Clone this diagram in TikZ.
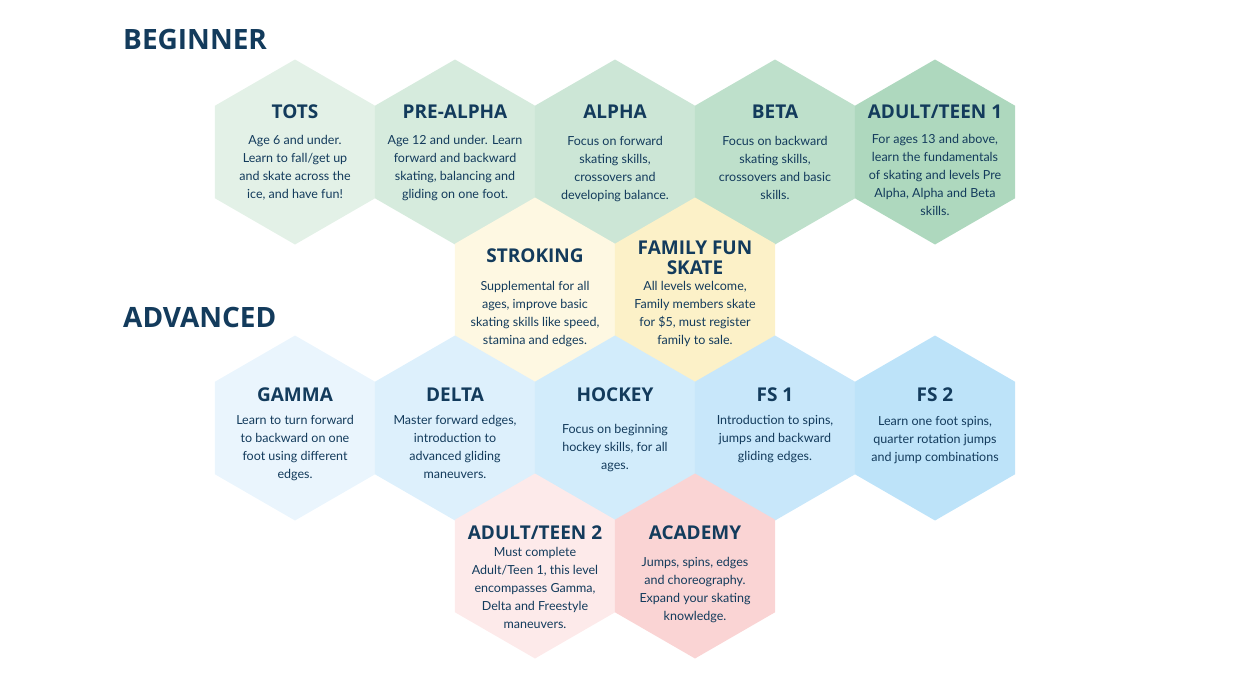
\documentclass[tikz,border=0pt]{standalone}
\usepackage{fontspec}
\setmainfont{Lato}
\newfontfamily\headfont{Open Sans}
\usetikzlibrary{shapes.geometric}
\definecolor{navy}{HTML}{133B5C}
\definecolor{cA}{HTML}{E3F1E7}\definecolor{cB}{HTML}{D6EBDD}\definecolor{cC}{HTML}{CCE6D6}
\definecolor{cD}{HTML}{BEE0CB}\definecolor{cE}{HTML}{AED8BE}
\definecolor{yA}{HTML}{FEF8E2}\definecolor{yB}{HTML}{FCF1C8}
\definecolor{bA}{HTML}{EAF5FD}\definecolor{bB}{HTML}{DDF0FC}\definecolor{bC}{HTML}{D2ECFB}
\definecolor{bD}{HTML}{C8E7FA}\definecolor{bE}{HTML}{BDE3F9}
\definecolor{rA}{HTML}{FDEAEA}\definecolor{rB}{HTML}{FAD4D4}
\tikzset{
 hexa/.style={regular polygon,regular polygon sides=6,shape border rotate=30,minimum size=185pt,inner sep=0pt,outer sep=0pt,draw=none,fill=#1},
 htitle/.style={text=navy,font=\headfont\bfseries\fontsize{19}{20}\selectfont,align=center},
 hbody/.style={anchor=north,text=navy,font=\fontsize{12.5}{18}\selectfont,align=center,inner sep=0pt},
 sect/.style={anchor=west,text=navy,font=\headfont\bfseries\fontsize{28}{30}\selectfont,inner sep=0pt}
}
\newcommand{\hx}[8]{% name x y color titley title bodyy body
 \node[hexa=#4] (#1) at (#2,#3) {};
 \node[htitle] (#1t) at (#2,#5) {#6};
 \node[hbody] (#1b) at (#2,#7-8) {#8};
}
\begin{document}
\begin{tikzpicture}[x=1pt,y=-1pt]
\useasboundingbox (0,0) rectangle (1237,696);
\node[sect] (beg) at (123,39) {BEGINNER};
\node[sect] (adv) at (123,317) {ADVANCED};
\hx{tots}{295}{152}{cA}{112}{TOTS}{143}{Age 6 and under.\\Learn to fall/get up\\and skate across the\\ice, and have fun!}
\hx{pre}{455}{152}{cB}{112}{PRE-ALPHA}{143}{Age 12 and under. Learn\\forward and backward\\skating, balancing and\\gliding on one foot.}
\hx{alpha}{615}{152}{cC}{112}{ALPHA}{144}{Focus on forward\\skating skills,\\crossovers and\\developing balance.}
\hx{beta}{775}{152}{cD}{112}{BETA}{144}{Focus on backward\\skating skills,\\crossovers and basic\\skills.}
\hx{at1}{935}{152}{cE}{112}{ADULT/TEEN 1}{142}{For ages 13 and above,\\learn the fundamentals\\of skating and levels Pre\\Alpha, Alpha and Beta\\skills.}
\hx{strk}{535}{290}{yA}{256}{STROKING}{289}{Supplemental for all\\ages, improve basic\\skating skills like speed,\\stamina and edges.}
\hx{fam}{695}{290}{yB}{258}{FAMILY FUN\\SKATE}{289}{All levels welcome,\\Family members skate\\for \$5, must register\\family to sale.}
\hx{gam}{295}{428}{bA}{395}{GAMMA}{423}{Learn to turn forward\\to backward on one\\foot using different\\edges.}
\hx{del}{455}{428}{bB}{395}{DELTA}{423}{Master forward edges,\\introduction to\\advanced gliding\\maneuvers.}
\hx{hoc}{615}{428}{bC}{395}{HOCKEY}{432}{Focus on beginning\\hockey skills, for all\\ages.}
\hx{fs1}{775}{428}{bD}{395}{FS 1}{423}{Introduction to spins,\\jumps and backward\\gliding edges.}
\hx{fs2}{935}{428}{bE}{395}{FS 2}{424}{Learn one foot spins,\\quarter rotation jumps\\and jump combinations}
\hx{at2}{535}{566}{rA}{533}{ADULT/TEEN 2}{555}{Must complete\\Adult/Teen 1, this level\\encompasses Gamma,\\Delta and Freestyle\\maneuvers.}
\hx{aca}{695}{566}{rB}{533}{ACADEMY}{565}{Jumps, spins, edges\\and choreography.\\Expand your skating\\knowledge.}
\end{tikzpicture}
\end{document}
